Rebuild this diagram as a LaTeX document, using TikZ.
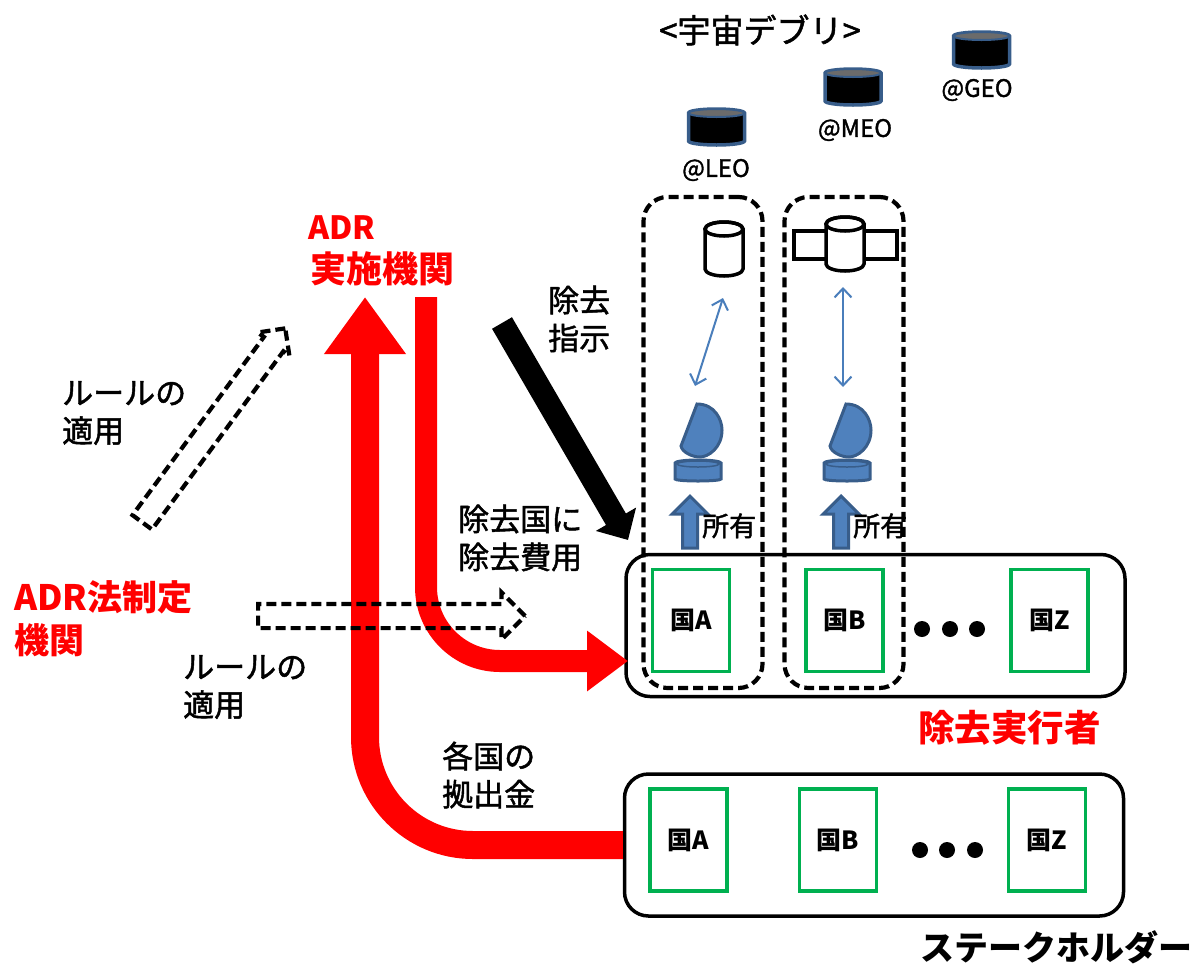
\documentclass[tikz,border=0pt]{standalone}
\usepackage{fontspec}
\setmainfont{Noto Sans CJK JP}
\newfontfamily\heavyfont[FakeBold=1.5]{Noto Sans CJK JP}
\usetikzlibrary{positioning, arrows.meta, shapes.arrows}
\definecolor{adrred}{HTML}{FF0000}
\definecolor{stationblue}{HTML}{4F81BD}
\definecolor{stationedge}{HTML}{385D8A}
\definecolor{linkblue}{HTML}{4A7EBB}
\definecolor{boxgreen}{HTML}{00B050}
\definecolor{debristop}{HTML}{6B6B6B}
\tikzset{
  lbl/.style={font=\heavyfont\fontsize{31}{38}\selectfont, align=left, inner sep=0pt, anchor=west},
  redlbl/.style={lbl, text=adrred, font=\fontsize{35}{43}\selectfont\bfseries},
  orbitlbl/.style={font=\heavyfont\fontsize{24}{28}\selectfont, inner sep=0pt},
  ownlbl/.style={font=\heavyfont\fontsize{27}{32}\selectfont, inner sep=0pt},
  groupbox/.style={draw, line width=3.5pt, rounded corners=24pt, minimum width=499pt, minimum height=142pt},
  countrybox/.style={draw=boxgreen, line width=3.5pt, minimum width=77pt, minimum height=102pt,
    font=\fontsize{25}{28}\selectfont\bfseries},
  orbitbox/.style={draw, line width=4.2pt, dash pattern=on 10pt off 5pt, rounded corners=24pt,
    minimum width=119pt, minimum height=491pt},
  dot/.style={circle, fill=black, minimum size=16pt, inner sep=0pt},
  redflow/.style={draw=adrred, -{Triangle[#1]}},
  hollow/.style={single arrow, draw, line width=4.2pt, dash pattern=on 10pt off 5pt, inner xsep=0pt,
    single arrow head indent=0pt},
  ownarrow/.style={single arrow, draw=stationedge, fill=stationblue, line width=3pt, inner xsep=0pt, inner ysep=6pt,
    rotate=90, anchor=tip, minimum height=52pt, minimum width=33pt, single arrow head extend=10.5pt},
  link/.style={linkblue, line width=2pt, {Straight Barb[length=9pt,width=17pt]}-{Straight Barb[length=9pt,width=17pt]}},
  debris/.pic={
    \draw[stationedge, line width=3.5pt, fill=black] (-28,-14) -- (-28,14)
      arc[start angle=180, end angle=0, x radius=28, y radius=4] -- (28,-14)
      arc[start angle=0, end angle=-180, x radius=28, y radius=4] -- cycle;
    \draw[stationedge, line width=2pt, fill=debristop] (0,-14) ellipse[x radius=28, y radius=4];
  },
  sat/.pic={
    \draw[line width=3.5pt, fill=white] (-19,-20) -- (-19,20)
      arc[start angle=180, end angle=0, x radius=19, y radius=7] -- (19,-20)
      arc[start angle=0, end angle=-180, x radius=19, y radius=7] -- cycle;
    \draw[line width=3.5pt] (0,-20) ellipse[x radius=19, y radius=7];
  },
  antenna/.pic={
    \draw[stationedge, line width=3pt, fill=stationblue] (-1,-66) .. controls (17,-66) and (24,-50) .. (24,-40)
      .. controls (24,-22) and (10,-13) .. (2,-13) .. controls (-6,-13) and (-16,-18) .. (-17,-24) -- cycle;
    \draw[stationedge, line width=3pt, fill=stationblue] (-23,-7) -- (-23,9)
      arc[start angle=180, end angle=0, x radius=23, y radius=2] -- (23,-7)
      arc[start angle=0, end angle=-180, x radius=23, y radius=3] -- cycle;
    \draw[stationedge, line width=1.5pt] (0,-6) ellipse[x radius=21, y radius=3];
  }
}

\begin{document}
\begin{tikzpicture}[x=1pt, y=-1pt]
  \useasboundingbox (0,0) rectangle (1201,970);
  % groups of countries
  \node[groupbox] (removers) at (875.5,625.5) {};
  \node[groupbox] (holders) at (874,845) {};
  \node[countrybox] (remA) at (691,620.5) {国A};
  \node[countrybox] (remB) at (844.5,620.5) {国B};
  \node[countrybox] (remZ) at (1049.5,620.5) {国Z};
  \node[countrybox] (holdA) at (688.5,840) {国A};
  \node[countrybox] (holdB) at (838,840) {国B};
  \node[countrybox] (holdZ) at (1047,840) {国Z};
  \foreach \i/\x in {1/922, 2/950, 3/977}
    \node[dot] (remdot\i) at (\x,629) {};
  \foreach \i/\x in {1/920, 2/947, 3/975}
    \node[dot] (holddot\i) at (\x,850) {};
  % orbit columns
  \node[orbitbox] (leobox) at (703,442.5) {};
  \node[orbitbox] (meobox) at (844,442.5) {};
  \node[font=\heavyfont\fontsize{33}{38}\selectfont, inner sep=0pt] (debristitle) at (760,30) {<宇宙デブリ>};
  \pic at (716.5,127) {debris};
  \pic at (853,87) {debris};
  \pic at (981.5,50) {debris};
  \node[orbitlbl] (leolbl) at (716,170) {@LEO};
  \node[orbitlbl] (meolbl) at (855,130) {@MEO};
  \node[orbitlbl] (geolbl) at (977,90) {@GEO};
  % removal satellites and ground stations
  \draw[line width=3.5pt, fill=white] (794,231) rectangle (897,259);
  \pic at (724,249) {sat};
  \pic at (845,244) {sat};
  \pic at (698,470) {antenna};
  \pic at (847,470) {antenna};
  \coordinate (satA) at (723,298);
  \coordinate (stA) at (695,386);
  \coordinate (satB) at (843,287);
  \coordinate (stB) at (843,387);
  \draw[link] (satA) -- (stA);
  \draw[link] (satB) -- (stB);
  \node[ownarrow] (ownA) at (690,494) {};
  \node[ownarrow] (ownB) at (841,494) {};
  \node[ownlbl, right=12pt of ownA.center] (ownlblA) {所有};
  \node[ownlbl, right=12pt of ownB.center] (ownlblB) {所有};
  % money flows
  \coordinate (adrfoot) at (365,297);
  \coordinate (adrout) at (426,297);
  \coordinate (payin) at (628,661);
  \draw[redflow={width=78pt,length=57pt}, line width=28pt, rounded corners=108pt]
    (holders.west |- 0,845) -- (365,845) -- (adrfoot);
  \draw[redflow={width=58pt,length=41pt}, line width=22pt, rounded corners=74pt]
    (adrout) -- (426,661) -- (payin);
  \coordinate (orderfrom) at (502,323);
  \coordinate (orderto) at (628,540);
  \draw[line width=23pt, -{Triangle[width=45pt,length=24pt]}] (orderfrom) -- (orderto);
  % rule arrows
  \node[hollow, anchor=tail, inner ysep=10pt, minimum height=267pt, minimum width=43pt, single arrow head extend=11.5pt] (ruleH) at (256,616) {};
  \node[hollow, anchor=tail, inner ysep=10pt, rotate=53.6, minimum height=241pt, minimum width=35pt, single arrow head extend=7.5pt] (ruleD) at (141,524) {};
  % labels
  \node[lbl, text=adrred, font=\fontsize{32}{36}\selectfont\bfseries] (adrname) at (308,228) {ADR};
  \node[lbl, text=adrred, font=\fontsize{36}{40}\selectfont\bfseries] (adrorg) at (310,269) {実施機関};
  \node[redlbl] (lawmaker) at (14,619) {ADR法制定\\機関};
  \node[lbl] (ruleU) at (62,413) {ルールの\\適用};
  \node[lbl] (ruleL) at (183,687) {ルールの\\適用};
  \node[lbl] (order) at (548,319) {除去\\指示};
  \node[lbl] (fee) at (458,538) {除去国に\\除去費用};
  \node[lbl] (share) at (442,775) {各国の\\拠出金};
  \node[lbl, text=adrred, font=\fontsize{36.5}{40}\selectfont\bfseries] (remname) at (918,728) {除去実行者};
  \node[lbl, font=\fontsize{34}{40}\selectfont\bfseries] (holdname) at (920,947) {ステークホルダー};
\end{tikzpicture}
\end{document}
